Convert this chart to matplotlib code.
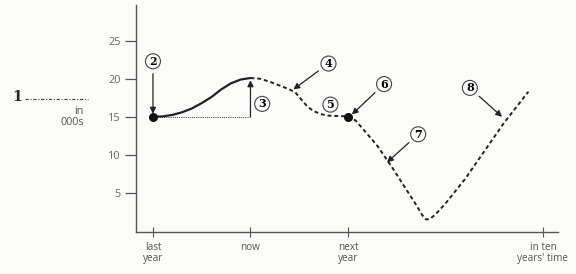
import matplotlib.pyplot as plt
from matplotlib.lines import Line2D

# solid part: last year -> now
solid_x = [0, 0.1, 0.2, 0.3, 0.4, 0.5, 0.6, 0.7, 0.8, 0.9, 1.0]
solid_y = [15, 15.05, 15.25, 15.6, 16.1, 16.8, 17.6, 18.6, 19.4, 19.9, 20.1]

# dashed forecast: now -> in ten years
dash_x = [1.0, 1.1, 1.2, 1.3, 1.4, 1.46, 1.52, 1.58, 1.64, 1.72, 1.8, 1.9, 2.0,
          2.08, 2.16, 2.3, 2.45, 2.6, 2.7, 2.76, 2.8, 2.84, 2.9, 3.0, 3.2, 3.4,
          3.6, 3.85]
dash_y = [20.1, 20.0, 19.6, 19.1, 18.6, 18.2, 17.3, 16.4, 15.8, 15.35, 15.15,
          15.1, 15.05, 14.5, 13.3, 11.2, 8.4, 5.4, 3.4, 2.1, 1.5, 1.55, 2.2, 3.6,
          6.8, 10.5, 14.2, 18.3]

dots_x = [0, 2]
dots_y = [15, 15]

xticks = [0, 1, 2, 4]
xlabels = ["last\nyear", "now", "next\nyear", "in ten\nyears' time"]
yticks = [5, 10, 15, 20, 25]

# circled callouts: number, label position, arrow tip (None = no arrow)
callouts = [
    ("2", (0.0, 22.3), (0.0, 15.4)),
    ("4", (1.8, 22.0), (1.44, 18.6)),
    ("5", (1.82, 16.6), None),
    ("6", (2.37, 19.3), (2.04, 15.3)),
    ("7", (2.72, 12.7), (2.4, 9.0)),
    ("8", (3.25, 18.8), (3.58, 15.0)),
]

W, H = 576, 274
fig = plt.figure(figsize=(W / 100, H / 100), dpi=100, facecolor="#fbfbf9")
ax = fig.add_axes([136 / W, 1 - 232 / H, (558 - 136) / W, (232 - 5) / H])
ax.set_facecolor("#fbfbf9")

ax.plot(solid_x, solid_y, color="#222222", lw=1.6, solid_capstyle="round",
        solid_joinstyle="round")
ax.plot(dash_x, dash_y, color="#222222", lw=1.4, linestyle=(0, (2.0, 1.5)),
        dash_joinstyle="round")
ax.plot(dots_x, dots_y, "o", color="#111111", ms=5.5)

# dotted baseline and arrow for callout 3
ax.plot([0, 1], [15, 15], color="#333333", lw=0.7, linestyle=(0, (1, 1.2)))
ax.annotate("", xy=(1, 19.8), xytext=(1, 15),
            arrowprops=dict(arrowstyle="-|>", color="#222222", lw=0.9,
                            shrinkA=0, shrinkB=0, mutation_scale=9))

circ = dict(boxstyle="circle,pad=0.18", fc="#fbfbf9", ec="#444444", lw=0.8)
ax.text(1.12, 16.7, "3", ha="center", va="center", fontsize=8, family="DejaVu Serif",
        fontweight="bold", bbox=circ)
for num, pos, tip in callouts:
    ax.text(pos[0], pos[1], num, ha="center", va="center", fontsize=8,
            family="DejaVu Serif", fontweight="bold", bbox=circ, zorder=5)
    if tip is not None:
        ax.annotate("", xy=tip, xytext=pos,
                    arrowprops=dict(arrowstyle="-|>", color="#222222", lw=0.9,
                                    shrinkA=9, shrinkB=0, mutation_scale=9))

ax.set_xlim(-0.174, 4.154)
ax.set_ylim(-0.15, 29.7)
ax.set_xticks(xticks)
ax.set_xticklabels(xlabels, family="Open Sans", fontsize=7.2, color="#555555",
                   linespacing=1.0)
ax.set_yticks(yticks)
ax.set_yticklabels([str(v) for v in yticks], family="Open Sans", fontsize=7.8,
                   color="#666666")
ax.tick_params(axis="y", direction="out", length=8, width=0.9, color="#555555", pad=3)
ax.tick_params(axis="x", direction="inout", length=7, width=0.8, color="#555555", pad=4)
for s in ["top", "right"]:
    ax.spines[s].set_visible(False)
for s in ["left", "bottom"]:
    ax.spines[s].set_color("#555555")
    ax.spines[s].set_linewidth(1.0)

# legend-like key at left
fig.text(12 / W, 1 - 97 / H, "1", family="DejaVu Serif", fontweight="bold",
         fontsize=10, va="center", ha="left", color="#222222")
fig.add_artist(Line2D([25 / W, 88 / W], [1 - 99 / H, 1 - 99 / H], color="#444444",
                      lw=0.8, linestyle=(0, (3, 1.5, 1, 1.5))))
fig.text(84 / W, 1 - 117 / H, "in\n000s", family="Open Sans", fontsize=7.8,
         color="#555555", ha="right", va="center", linespacing=1.0,
         multialignment="right")

fig.savefig("out.png", dpi=100, facecolor=fig.get_facecolor())
